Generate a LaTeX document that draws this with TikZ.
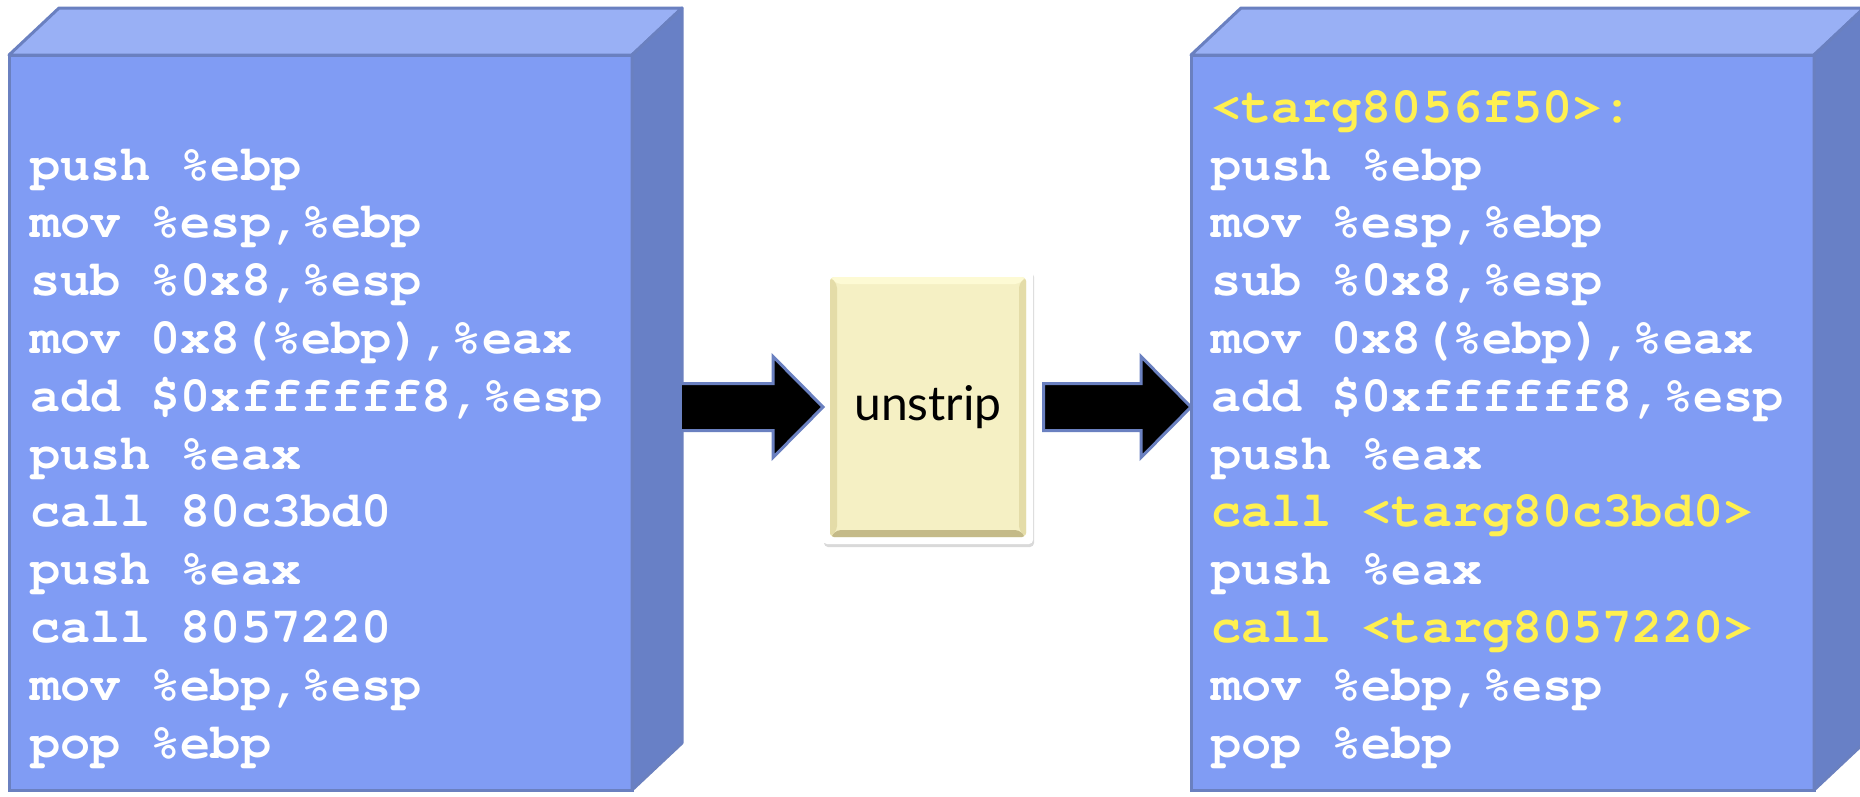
\documentclass[tikz,border=0pt]{standalone}
\usepackage{fontspec}
\usepackage[T1,TU]{fontenc}
\newfontfamily\padfont{Lato}
\usetikzlibrary{positioning, calc, shadows}

\definecolor{frontblue}{RGB}{128,156,244}
\definecolor{topblue}{RGB}{153,176,245}
\definecolor{sideblue}{RGB}{104,128,198}
\definecolor{edgeblue}{RGB}{106,128,192}
\definecolor{codeyellow}{RGB}{255,240,80}
\definecolor{padyellow}{RGB}{245,240,196}
\definecolor{padlight}{RGB}{253,250,212}
\definecolor{paddark}{RGB}{196,186,136}
\definecolor{padside}{RGB}{228,220,168}

\tikzset{
    front/.style={fill=frontblue, draw=edgeblue, line width=3pt, outer sep=0pt,
        minimum width=623pt, minimum height=735pt, anchor=north west},
    face/.style={draw=edgeblue, line width=3pt, line join=round},
    code/.style={text=white, inner sep=0pt, align=left, anchor=base west,
        font=\usefont{T1}{pcr}{b}{n}\fontsize{50.2}{57.8}\selectfont},
    arrowbody/.style={fill=black, draw=edgeblue, line width=3pt, line join=miter},
    pad/.style={fill=white, rounded corners=4pt, minimum width=210pt, minimum height=274pt,
        outer sep=0pt, font=\padfont\fontsize{48}{52}\selectfont,
        drop shadow={shadow xshift=1pt, shadow yshift=-3pt, opacity=0.3, fill=gray},
        path picture={
            \coordinate (pa) at ($(path picture bounding box.north west)+(7,7)$);
            \coordinate (pb) at ($(path picture bounding box.north east)+(-7,7)$);
            \coordinate (pc) at ($(path picture bounding box.south east)+(-7,-7)$);
            \coordinate (pd) at ($(path picture bounding box.south west)+(7,-7)$);
            \fill[padyellow] (pa) rectangle (pc);
            \fill[padlight] (pa) -- (pb) -- ($(pb)+(-7,7)$) -- ($(pa)+(7,7)$) -- cycle;
            \fill[paddark] (pd) -- (pc) -- ($(pc)+(-7,-7)$) -- ($(pd)+(7,-7)$) -- cycle;
            \fill[padside] (pa) -- ($(pa)+(7,7)$) -- ($(pd)+(7,-7)$) -- (pd) -- cycle;
            \fill[padside] (pb) -- ($(pb)+(-7,7)$) -- ($(pc)+(-7,-7)$) -- (pc) -- cycle;
        }},
}

% block arrow from a shaft end to a tip
\newcommand{\blockarrow}[3]{%
    \filldraw[arrowbody] ($(#1)+(0,-23.5)$) -- ($(#2)+(-50,-23.5)$) -- ($(#2)+(-50,-50.5)$)
        -- (#2) -- ($(#2)+(-50,50.5)$) -- ($(#2)+(-50,23.5)$) -- ($(#1)+(0,23.5)$) #3;
}

\begin{document}
\begin{tikzpicture}[x=1pt, y=-1pt]
    \useasboundingbox (0,0) rectangle (1860,796);

    % the two code boxes
    \foreach \bx/\bname in {9/src, 1191/dst}{
        \node[front] (\bname) at (\bx,55) {};
        \draw[face, fill=topblue] (\bname.north west) -- ++(50,-47) -- ++(623,0)
            -- (\bname.north east) -- cycle;
        \draw[face, fill=sideblue] (\bname.north east) -- ++(50,-47) -- ++(0,735)
            -- (\bname.south east) -- cycle;
    }

    % base anchor sits on the last line
    \node[code] (srccode) at (30,758) {push \%ebp\\
        mov \%esp,\%ebp\\
        sub \%0x8,\%esp\\
        mov 0x8(\%ebp),\%eax\\
        add \$0xffffff8,\%esp\\
        push \%eax\\
        call 80c3bd0\\
        push \%eax\\
        call 8057220\\
        mov \%ebp,\%esp\\
        pop \%ebp};

    \node[code] (dstcode) at (1211,758) {{\color{codeyellow}<targ8056f50>:}\\
        push \%ebp\\
        mov \%esp,\%ebp\\
        sub \%0x8,\%esp\\
        mov 0x8(\%ebp),\%eax\\
        add \$0xffffff8,\%esp\\
        push \%eax\\
        {\color{codeyellow}call <targ80c3bd0>}\\
        push \%eax\\
        {\color{codeyellow}call <targ8057220>}\\
        mov \%ebp,\%esp\\
        pop \%ebp};

    % the tool in the middle
    \node[pad] (unstrip) at (928,407) {unstrip};

    \coordinate (srcside) at ($(src.east |- unstrip.west)+(50,0)$);
    \coordinate (padout) at ($(unstrip.east)+(10.5,0)$);
    \blockarrow{srcside}{unstrip.west}{}
    \blockarrow{padout}{dst.west |- unstrip.east}{-- cycle}
\end{tikzpicture}
\end{document}
